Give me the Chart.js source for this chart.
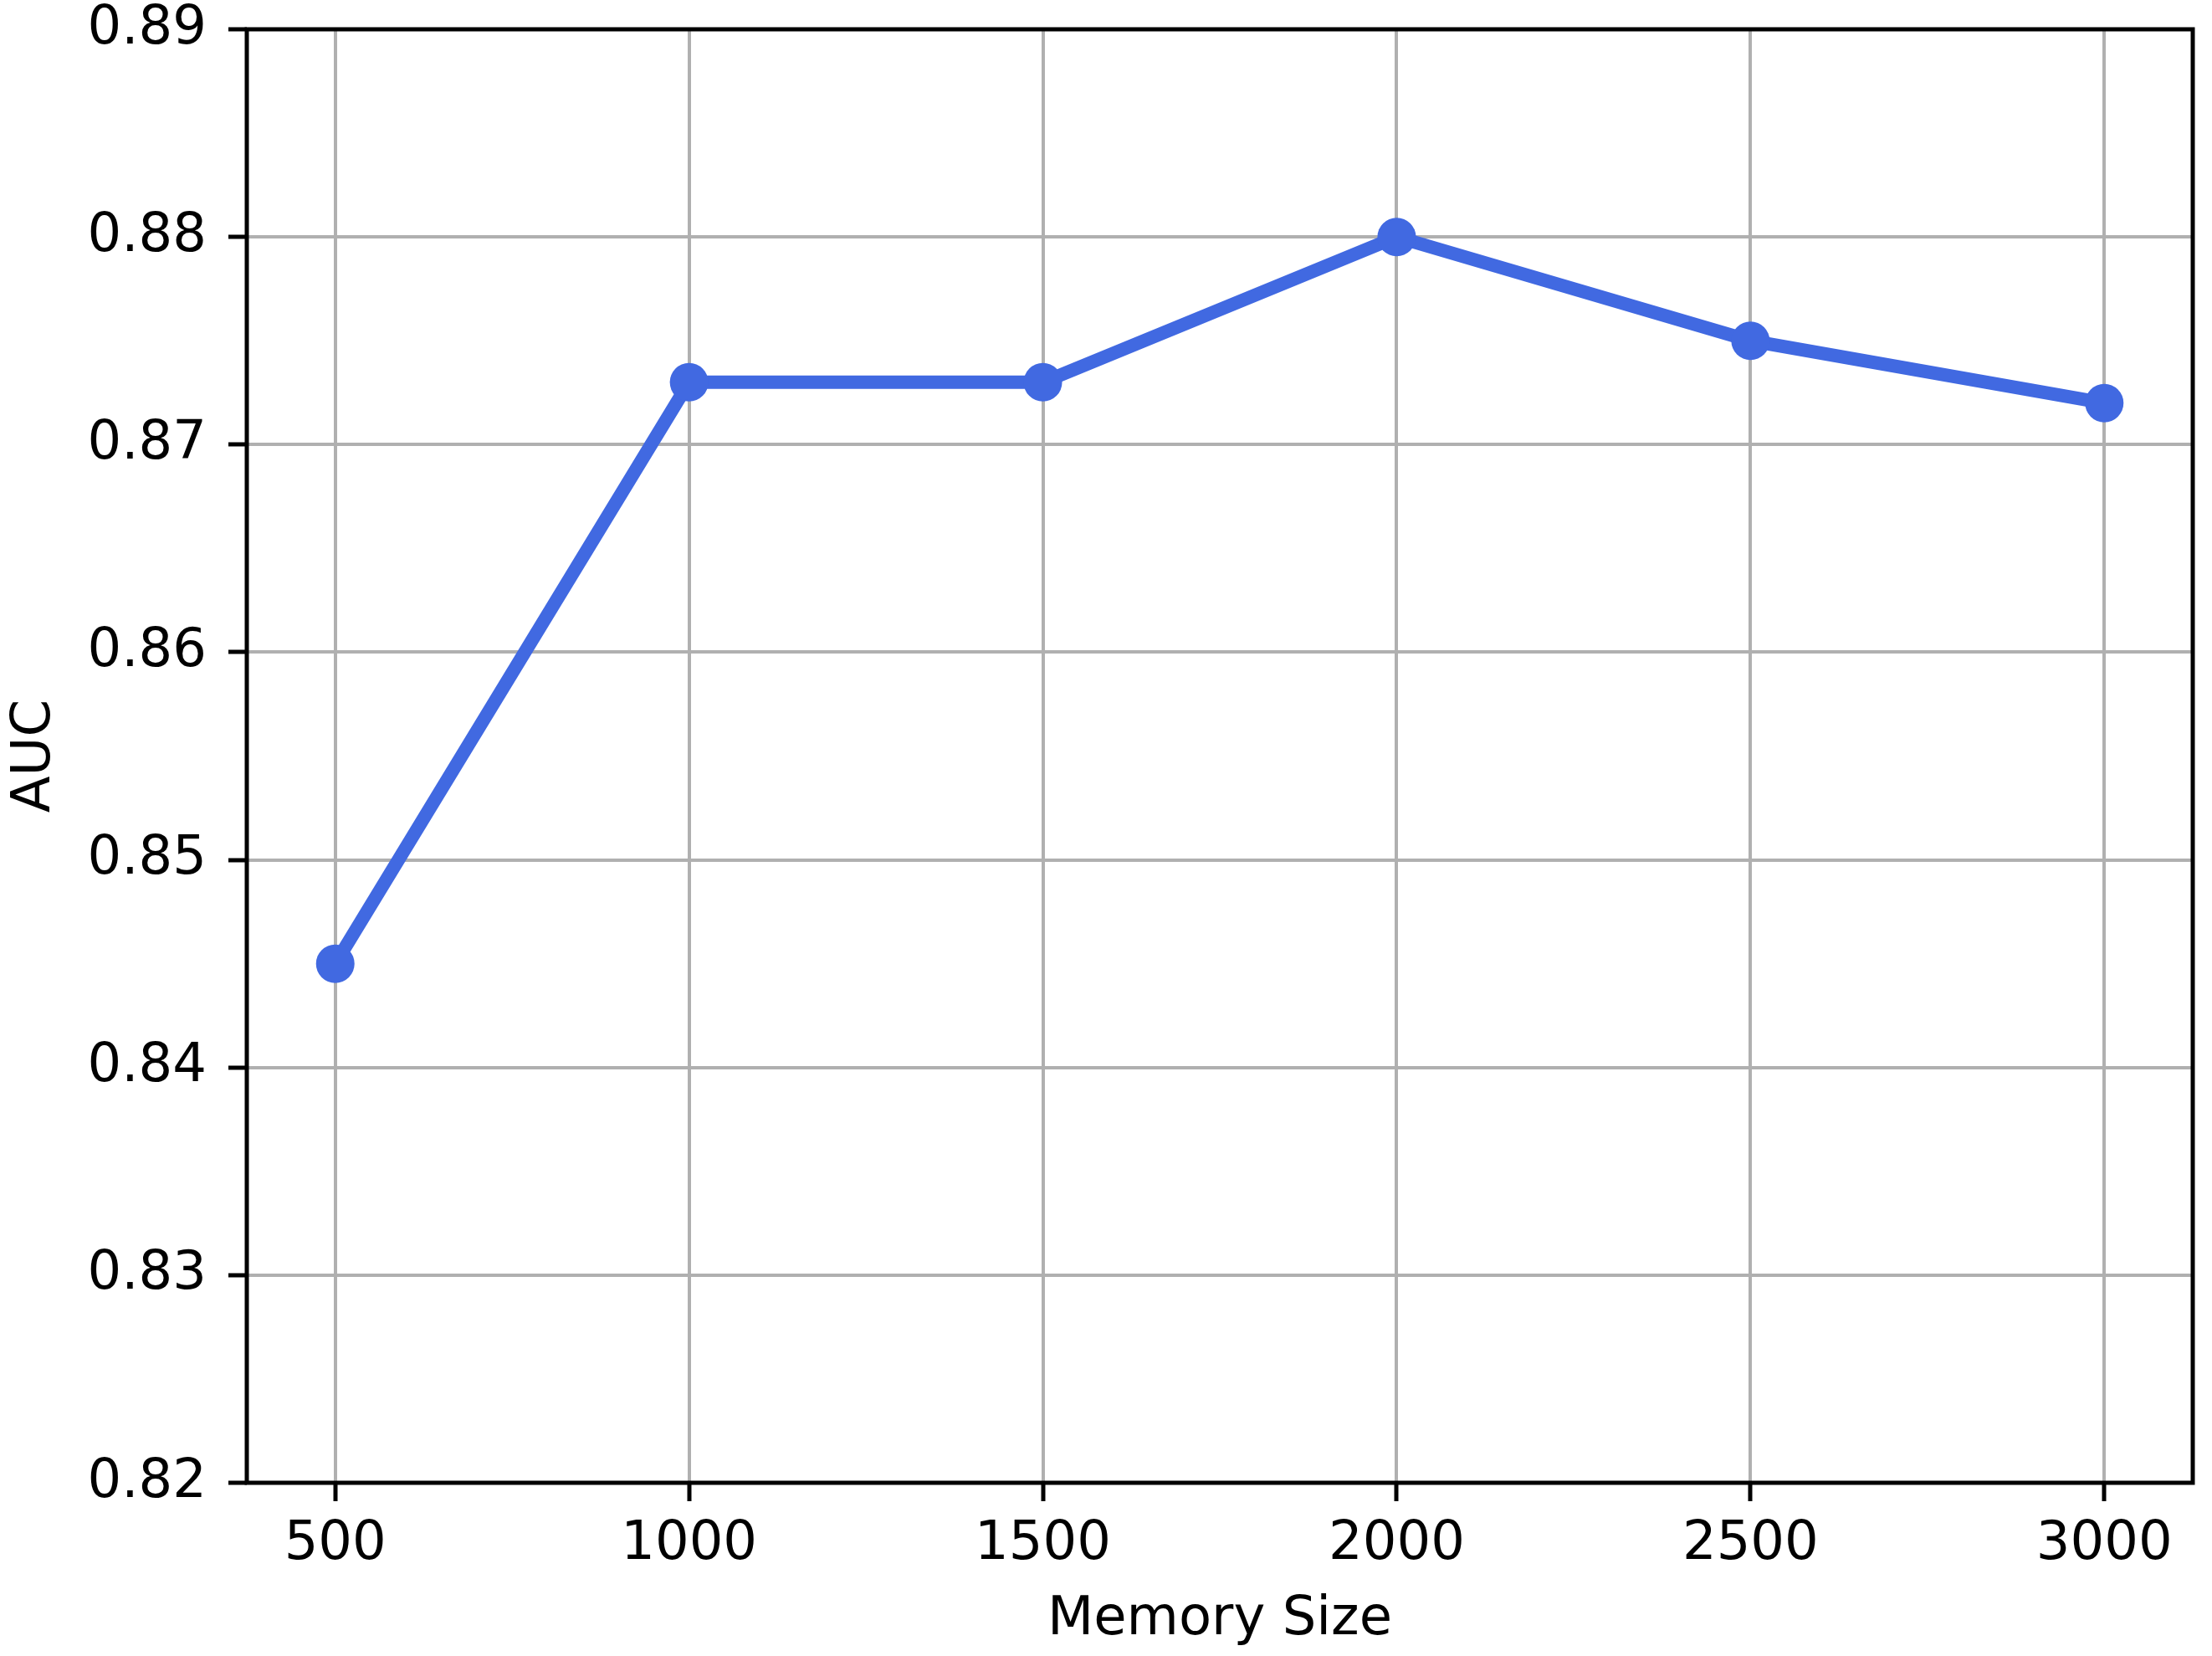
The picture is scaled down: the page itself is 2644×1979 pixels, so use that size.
<!DOCTYPE html>
<html>
<head>
<meta charset="utf-8">
<script src="https://cdn.jsdelivr.net/npm/chart.js@4"></script>
<style>
  html, body { margin: 0; padding: 0; background: #fff; }
  #wrap { width: 2644px; height: 1979px; }
</style>
</head>
<body>
<div id="wrap"><canvas id="aucChart" width="2644" height="1979"></canvas></div>
<script>
const memorySizes = [500, 1000, 1500, 2000, 2500, 3000];
const aucValues = [0.845, 0.873, 0.873, 0.880, 0.875, 0.872];
const xTicks = [500, 1000, 1500, 2000, 2500, 3000];
const yTicks = [0.82, 0.83, 0.84, 0.85, 0.86, 0.87, 0.88, 0.89];

const FONT = "'DejaVu Sans', sans-serif";

// draws the top and right spines too
const frame = {
    id: 'frame',
    afterDraw(chart) {
        const a = chart.chartArea;
        const ctx = chart.ctx;
        ctx.save();
        ctx.strokeStyle = '#000';
        ctx.lineWidth = 5;
        ctx.strokeRect(a.left, a.top, a.right - a.left, a.bottom - a.top);
        ctx.restore();
    }
};

document.addEventListener("DOMContentLoaded", function() {
    let ctx = document.getElementById('aucChart').getContext('2d');
    new Chart(ctx, {
        type: 'line',
        data: {
            datasets: [{
                label: "AUC",
                data: memorySizes.map((m, i) => ({x: m, y: aucValues[i]})),
                borderColor: "#4169E1",
                backgroundColor: "#4169E1",
                borderWidth: 16,
                pointRadius: 23,
                pointHoverRadius: 23,
                pointBorderWidth: 0,
                tension: 0,
                fill: false
            }]
        },
        options: {
            responsive: false,
            animation: false,
            layout: { padding: { top: 35, right: 22, left: 0, bottom: 0 } },
            plugins: { legend: { display: false }, tooltip: { enabled: false } },
            scales: {
                x: {
                    type: 'linear',
                    min: 375,
                    max: 3125,
                    afterBuildTicks: axis => { axis.ticks = xTicks.map(v => ({value: v})); },
                    afterFit: scale => { scale.height = 207; scale.paddingLeft = 0; scale.paddingRight = 0; },
                    grid: { color: '#b0b0b0', lineWidth: 4, tickColor: '#000', tickWidth: 5, tickLength: 22 },
                    border: { display: false },
                    ticks: { color: '#000', font: { family: FONT, size: 64 }, padding: 14, maxRotation: 0, callback: v => String(v) },
                    title: { display: true, text: 'Memory Size', color: '#000', font: { family: FONT, size: 64 }, padding: { top: 0, bottom: 4 } }
                },
                y: {
                    min: 0.82,
                    max: 0.89,
                    afterBuildTicks: axis => { axis.ticks = yTicks.map(v => ({value: v})); },
                    afterFit: scale => { scale.width = 295; scale.paddingTop = 0; scale.paddingBottom = 0; },
                    grid: { color: '#b0b0b0', lineWidth: 4, tickColor: '#000', tickWidth: 5, tickLength: 22 },
                    border: { display: false },
                    ticks: { color: '#000', font: { family: FONT, size: 64 }, padding: 26, callback: v => v.toFixed(2) },
                    title: { display: true, text: 'AUC', color: '#000', font: { family: FONT, size: 64 }, padding: { top: 4, bottom: 0 } }
                }
            }
        },
        plugins: [frame]
    });
});
</script>
</body>
</html>
